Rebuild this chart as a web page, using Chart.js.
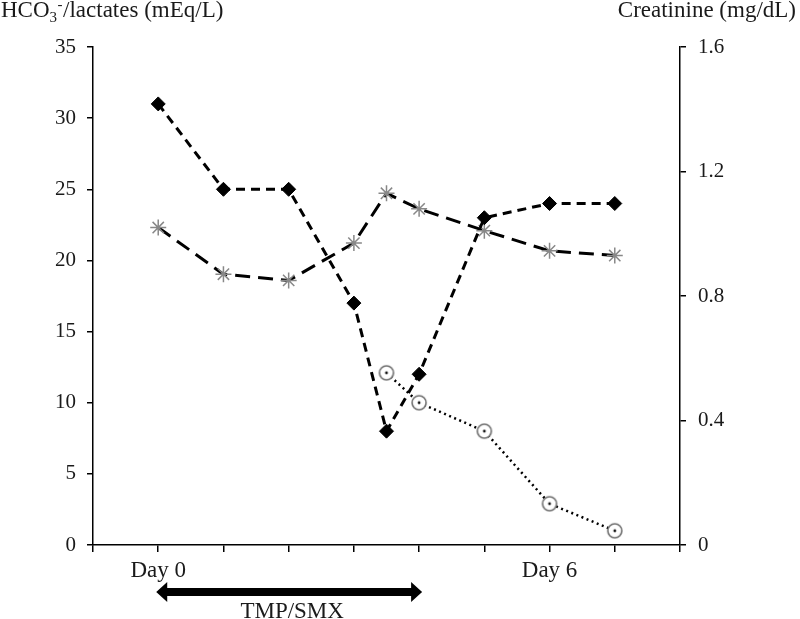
<!DOCTYPE html>
<html>
<head>
<meta charset="utf-8">
<script src="https://cdn.jsdelivr.net/npm/chart.js@4"></script>
<style>
html,body{margin:0;padding:0;background:#fff;}
#wrap{width:800px;height:619px;}
</style>
</head>
<body>
<div id="wrap"><canvas id="c" width="800" height="619"></canvas></div>
<script>
// ---- data ----
const days         = [0, 1, 2, 3, 3.5, 4, 5, 6, 7];
const hco3         = [31, 25, 25, 17, 8, 12, 23, 24, 24];          // mEq/L, left axis
const creatinine   = [1.02, 0.87, 0.85, 0.97, 1.13, 1.08, 1.01, 0.945, 0.93]; // mg/dL, right axis
const lactateDays  = [3.5, 4, 5, 6, 7];
const lactates     = [12.1, 10, 8, 2.9, 1];                        // mEq/L, left axis
const xTickDays    = [0, 6];
const xTickLabels  = ['Day 0', 'Day 6'];
const leftTicks    = [0, 5, 10, 15, 20, 25, 30, 35];
const rightTicks   = [0, 0.4, 0.8, 1.2, 1.6];
const tmpSmxDays   = [0, 4];
const tmpSmxLabel  = 'TMP/SMX';

const FONT = "'Liberation Serif', 'Times New Roman', serif";
const TXT = '#1a1a1a';

// circle-with-dot marker
function circleDot(){
  const c = document.createElement('canvas');
  c.width = 18; c.height = 18;
  const g = c.getContext('2d');
  g.fillStyle = '#fff';
  g.strokeStyle = '#6e6e6e';
  g.lineWidth = 1.6;
  g.beginPath(); g.arc(9, 9, 7, 0, Math.PI*2); g.fill(); g.stroke();
  g.fillStyle = '#111';
  g.beginPath(); g.arc(9, 9, 1.4, 0, Math.PI*2); g.fill();
  return c;
}

const extras = {
  id: 'extras',
  afterDraw(chart){
    const ctx = chart.ctx;
    const xs = chart.scales.x;
    ctx.save();
    ctx.fillStyle = TXT;
    ctx.textBaseline = 'alphabetic';
    // left title with sub/superscript
    let x = 1, y = 17;
    ctx.font = '23px ' + FONT;
    ctx.textAlign = 'left';
    ctx.fillText('HCO', x, y); x += ctx.measureText('HCO').width;
    ctx.font = '15px ' + FONT;
    ctx.fillText('3', x, y + 5);
    const w3 = ctx.measureText('3').width;
    ctx.fillText('-', x + w3 + 0.5, y - 8);
    x += w3 + ctx.measureText('-').width + 1;
    ctx.font = '23px ' + FONT;
    ctx.fillText('/lactates (mEq/L)', x, y);
    // right title
    ctx.textAlign = 'right';
    ctx.fillText('Creatinine (mg/dL)', 796, y);
    // treatment arrow
    const x0 = xs.getPixelForValue(tmpSmxDays[0]) - 2;
    const x1 = xs.getPixelForValue(tmpSmxDays[1]) + 3;
    const ay = 592, hl = 11, hh = 10, sh = 4;
    ctx.fillStyle = '#000';
    ctx.beginPath();
    ctx.moveTo(x0, ay);
    ctx.lineTo(x0 + hl, ay - hh);
    ctx.lineTo(x0 + hl, ay - sh);
    ctx.lineTo(x1 - hl, ay - sh);
    ctx.lineTo(x1 - hl, ay - hh);
    ctx.lineTo(x1, ay);
    ctx.lineTo(x1 - hl, ay + hh);
    ctx.lineTo(x1 - hl, ay + sh);
    ctx.lineTo(x0 + hl, ay + sh);
    ctx.lineTo(x0 + hl, ay + hh);
    ctx.closePath();
    ctx.fill();
    ctx.fillStyle = TXT;
    ctx.textAlign = 'center';
    ctx.font = '23px ' + FONT;
    ctx.fillText(tmpSmxLabel, (x0 + x1) / 2 + 3, 618);
    ctx.restore();
  }
};

new Chart(document.getElementById('c'), {
  type: 'line',
  data: {
    datasets: [
      {
        label: 'HCO3-',
        data: days.map((d, i) => ({x: d, y: hco3[i]})),
        yAxisID: 'y',
        borderColor: '#000',
        borderWidth: 3,
        borderDash: [9, 6],
        pointStyle: 'rectRot',
        pointRadius: 7,
        pointBackgroundColor: '#000',
        pointBorderColor: '#000',
        pointBorderWidth: 1,
        tension: 0
      },
      {
        label: 'Creatinine',
        data: days.map((d, i) => ({x: d, y: creatinine[i]})),
        yAxisID: 'y2',
        borderColor: '#000',
        borderWidth: 3,
        borderDash: [15, 8],
        pointStyle: 'star',
        pointRadius: 8,
        pointBackgroundColor: '#888',
        pointBorderColor: '#888',
        pointBorderWidth: 1.5,
        tension: 0
      },
      {
        label: 'Lactates',
        data: lactateDays.map((d, i) => ({x: d, y: lactates[i]})),
        yAxisID: 'y',
        borderColor: '#000',
        borderWidth: 2.5,
        borderDash: [2, 3.5],
        pointStyle: circleDot(),
        pointRadius: 8,
        tension: 0
      }
    ]
  },
  options: {
    responsive: false,
    animation: false,
    events: [],
    layout: { padding: { top: 47, left: 0, right: 0, bottom: 0 } },
    plugins: { legend: { display: false }, tooltip: { enabled: false }, title: { display: false } },
    scales: {
      x: {
        type: 'linear',
        min: -1, max: 8,
        afterBuildTicks(s){ s.ticks = []; for (let v = -1; v <= 8; v++) s.ticks.push({value: v}); },
        afterFit(s){ s.height = 74; },
        ticks: {
          autoSkip: false,
          maxRotation: 0,
          padding: 5,
          color: TXT,
          font: { family: FONT, size: 23 },
          callback(v){ const k = xTickDays.indexOf(v); return k >= 0 ? xTickLabels[k] : ''; }
        },
        grid: { display: true, drawOnChartArea: false, drawTicks: true, tickLength: 7, color: '#000', lineWidth: 1.5 },
        border: { display: true, color: '#000', width: 1.5 }
      },
      y: {
        position: 'left',
        min: 0, max: 35,
        afterBuildTicks(s){ s.ticks = leftTicks.map(v => ({value: v})); },
        afterFit(s){ s.width = 93; },
        ticks: { padding: 11, color: TXT, font: { family: FONT, size: 21 } },
        grid: { display: true, drawOnChartArea: false, drawTicks: true, tickLength: 6, color: '#000', lineWidth: 1.5 },
        border: { display: true, color: '#000', width: 1.5 }
      },
      y2: {
        position: 'right',
        min: 0, max: 1.6,
        afterBuildTicks(s){ s.ticks = rightTicks.map(v => ({value: v})); },
        afterFit(s){ s.width = 120; },
        ticks: {
          padding: 12, color: TXT, font: { family: FONT, size: 21 },
          callback(v){ return v === 0 ? '0' : v.toFixed(1); }
        },
        grid: { display: true, drawOnChartArea: false, drawTicks: true, tickLength: 6, color: '#000', lineWidth: 1.5 },
        border: { display: true, color: '#000', width: 1.5 }
      }
    }
  },
  plugins: [extras]
});
</script>
</body>
</html>
